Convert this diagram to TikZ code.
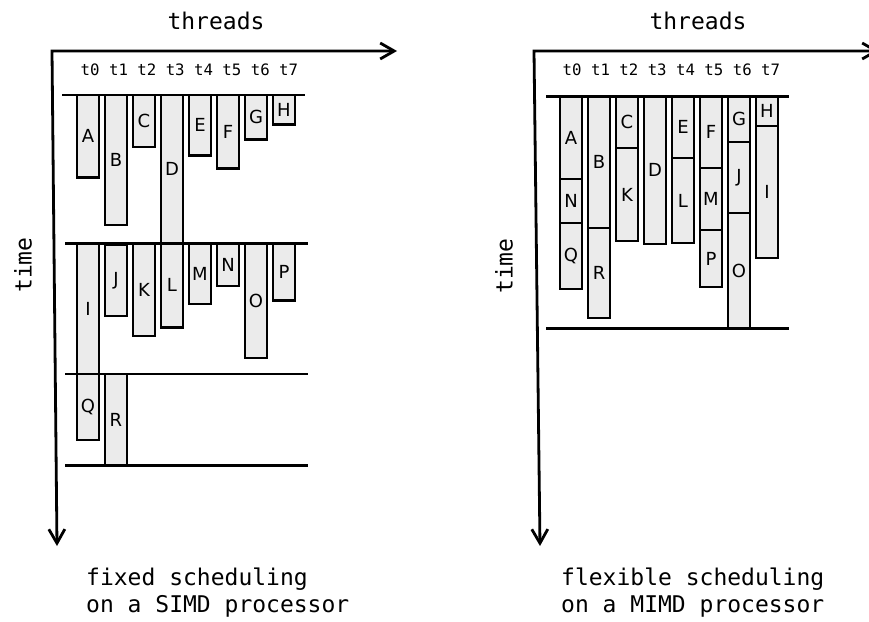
\documentclass[tikz,border=0pt]{standalone}
\usepackage{fontspec}
\setmainfont{DejaVu Sans}
\setmonofont{DejaVu Sans Mono}
\usetikzlibrary{arrows.meta}
\definecolor{boxfill}{RGB}{235,235,235}
\tikzset{
  taskbox/.style={draw, line width=2.5pt, fill=boxfill, inner sep=0pt,
    minimum width=22pt, font=\fontsize{18}{20}\selectfont},
  sepline/.style={line width=2.8pt},
  axisline/.style={line width=2.8pt,
    {Straight Barb[length=14pt,width=16pt]}-{Straight Barb[length=14pt,width=16pt]}},
  monolabel/.style={font=\ttfamily\fontsize{23}{27}\selectfont, inner sep=0pt},
  tlabel/.style={font=\ttfamily\fontsize{15.7}{18}\selectfont, inner sep=0pt},
}
% #1 name, #2 label, #3 centre x, #4 top y, #5 height
\newcommand\tsk[5]{\node[taskbox, minimum height=#5pt] (#1) at (#3,{#4+#5/2}) {#2};}
\begin{document}
\begin{tikzpicture}[x=1pt,y=-1pt]
\useasboundingbox (0,0) rectangle (869,621);
\clip (0,0) rectangle (869,621);

% ---------------- left panel: SIMD ----------------
\coordinate (Lcorner) at (52,51);
\coordinate (Lright) at (397,51);
\coordinate (Ldown) at (57,546);
\draw[axisline] (Ldown) -- (Lcorner) -- (Lright);
\node[monolabel, anchor=base] (Lthreads) at (216,29.5) {threads};
\node[monolabel, anchor=base, rotate=90] (Ltime) at (31.5,265) {time};
\node[tlabel, anchor=base west] (Ltl) at (80.5,75) {t0 t1 t2 t3 t4 t5 t6 t7};

\draw[sepline] (62,95) -- (305,95);
\draw[sepline] (65,243.3) -- (308,243.3);
\draw[sepline] (65,374) -- (308,374);
\draw[sepline] (65,465.7) -- (308,465.7);

\tsk{LA}{A}{88}{95}{82.5}
\tsk{LB}{B}{116}{95}{130}
\tsk{LC}{C}{144}{95}{52}
\tsk{LD}{D}{172}{95}{148}
\tsk{LE}{E}{200}{95}{60.5}
\tsk{LF}{F}{228}{95}{73.5}
\tsk{LG}{G}{256}{95}{44.5}
\tsk{LH}{H}{284}{95}{29.5}

\tsk{LI}{I}{88}{243.3}{130.7}
\tsk{LJ}{J}{116}{244.5}{71.5}
\tsk{LK}{K}{144}{243.3}{92.5}
\tsk{LL}{L}{172}{243.3}{84}
\tsk{LM}{M}{200}{243.3}{60.5}
\tsk{LN}{N}{228}{243.3}{42.5}
\tsk{LO}{O}{256}{243.3}{114.5}
\tsk{LP}{P}{284}{243.3}{57}

\tsk{LQ}{Q}{88}{374}{66}
\tsk{LR}{R}{116}{374}{91.7}

\node[monolabel, anchor=base west, align=left] (Lcap) at (86,612)
  {fixed scheduling\\on a SIMD processor};

% ---------------- right panel: MIMD ----------------
\coordinate (Rcorner) at (534,51);
\coordinate (Rright) at (879,51);
\coordinate (Rdown) at (540,546);
\draw[axisline] (Rdown) -- (Rcorner) -- (Rright);
\node[monolabel, anchor=base] (Rthreads) at (698,29.5) {threads};
\node[monolabel, anchor=base, rotate=90] (Rtime) at (512.5,266) {time};
\node[tlabel, anchor=base west] (Rtl) at (562.5,75) {t0 t1 t2 t3 t4 t5 t6 t7};

\draw[sepline] (546,96.7) -- (789,96.7);
\draw[sepline] (546,328.3) -- (789,328.3);

\tsk{RA}{A}{571}{96.7}{82.3}
\tsk{RN}{N}{571}{179}{44}
\tsk{RQ}{Q}{571}{223}{66}

\tsk{RB}{B}{599}{96.7}{131.3}
\tsk{RR}{R}{599}{228}{90}

\tsk{RC}{C}{627}{96.7}{51.3}
\tsk{RK}{K}{627}{148}{93}

\tsk{RD}{D}{655}{96.7}{147.3}

\tsk{RE}{E}{683}{96.7}{61.3}
\tsk{RL}{L}{683}{158}{85}

\tsk{RF}{F}{711}{96.7}{71.3}
\tsk{RM}{M}{711}{168}{62}
\tsk{RP}{P}{711}{230}{57}

\tsk{RG}{G}{739}{96.7}{45.3}
\tsk{RJ}{J}{739}{142}{71}
\tsk{RO}{O}{739}{213}{115.3}

\tsk{RH}{H}{767}{96.7}{29.3}
\tsk{RI}{I}{767}{126}{132}

\node[monolabel, anchor=base west, align=left] (Rcap) at (561,612)
  {flexible scheduling\\on a MIMD processor};
\end{tikzpicture}
\end{document}
